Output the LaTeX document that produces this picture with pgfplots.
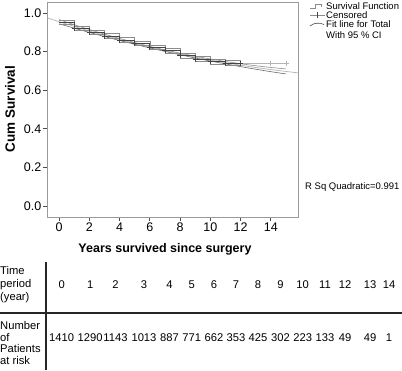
\documentclass[border=0pt]{standalone}
\usepackage{fontspec}
\setmainfont{Liberation Sans}
\usepackage{pgfplots}
\pgfplotsset{compat=1.18}
\definecolor{kmdark}{HTML}{444444}
\definecolor{kmci}{HTML}{8C8C8C}
\definecolor{fitc}{HTML}{B4B4B4}
\definecolor{axc}{HTML}{9A9A9A}
\begin{document}
\begin{tikzpicture}
\useasboundingbox (0pt,0pt) rectangle (402pt,-370pt);
\begin{axis}[
  at={(47pt,-217pt)}, anchor=south west,
  scale only axis, width=251pt, height=215pt,
  xmin=-0.8, xmax=15.8, ymin=-0.057, ymax=1.057,
  xtick={0,2,4,6,8,10,12,14},
  ytick={0,0.2,0.4,0.6,0.8,1.0},
  yticklabel style={/pgf/number format/fixed,/pgf/number format/fixed zerofill,/pgf/number format/precision=1},
  /pgf/number format/assume math mode=true,
  tick pos=left, tick align=outside,
  major tick length=4pt,
  axis line style={draw=axc, line width=0.8pt},
  every tick/.style={draw=black!70, line width=0.7pt},
  ticklabel style={font=\fontsize{12.5}{14}\selectfont},
  xticklabel style={inner sep=1.5pt},
  yticklabel style={inner sep=1.5pt},
]
% fit line for total
\addplot[fitc, line width=0.7pt, smooth] coordinates {
(-0.8,0.9754)(0,0.9550)(1,0.9304)(2,0.9069)(3,0.8844)(4,0.8629)(5,0.8426)(6,0.8232)(7,0.8050)(8,0.7878)(9,0.7716)(10,0.7566)(11,0.7426)(12,0.7297)(13,0.7178)(14,0.7070)(15,0.6973)(15.8,0.6900)};
% fit 95% CI
\addplot[kmdark!80, line width=0.6pt, smooth] coordinates {
(0,0.9441)(1,0.9214)(2,0.8994)(3,0.8782)(4,0.8576)(5,0.8380)(6,0.8191)(7,0.8010)(8,0.7837)(9,0.7670)(10,0.7513)(11,0.7364)(12,0.7222)(13,0.7088)(14,0.6961)(15,0.6843)};
\addplot[kmdark!60, line width=0.6pt, smooth] coordinates {
(0,0.9659)(1,0.9394)(2,0.9144)(3,0.8906)(4,0.8682)(5,0.8472)(6,0.8273)(7,0.8090)(8,0.7919)(9,0.7762)(10,0.7619)(11,0.7488)(12,0.7372)(13,0.7268)(14,0.7179)(15,0.7103)};
% KM confidence band
\addplot[kmci, line width=0.6pt, const plot] coordinates {
(0,0.961)(1,0.932)(2,0.910)(3,0.893)(4,0.872)(5,0.855)(6,0.835)(7,0.818)(8,0.793)(9,0.776)(10,0.761)(11,0.755)(12,0.752)};
\addplot[kmci, line width=0.6pt, const plot] coordinates {
(0,0.939)(1,0.910)(2,0.888)(3,0.869)(4,0.848)(5,0.831)(6,0.811)(7,0.792)(8,0.767)(9,0.748)(10,0.733)(11,0.727)(12,0.724)};
% KM survival function
\addplot[kmdark, line width=0.8pt, const plot] coordinates {
(0,0.950)(1,0.921)(2,0.899)(3,0.881)(4,0.860)(5,0.843)(6,0.823)(7,0.805)(8,0.780)(9,0.762)(10,0.747)(11,0.741)(12,0.738)};
\addplot[fitc, line width=0.7pt] coordinates {(12,0.738)(15,0.738)};
% censored
\addplot[only marks, mark=+, mark size=2.6pt, kmdark, mark options={line width=0.8pt}] coordinates {
(1,0.921)(2,0.899)(3,0.881)(4,0.860)(5,0.843)(6,0.823)(7,0.805)(8,0.780)(9,0.762)(10,0.747)(11,0.741)(12,0.738)};
\addplot[only marks, mark=+, mark size=2.6pt, fitc, mark options={line width=0.7pt}] coordinates {(14,0.738)(15,0.738)};
\end{axis}
% axis titles
\node[rotate=90, font=\bfseries\fontsize{13.5}{15}\selectfont] at (10pt,-109pt) {Cum Survival};
\node[font=\bfseries\fontsize{12.5}{14}\selectfont] at (165pt,-249pt) {Years survived since surgery};
% legend
\draw[kmci, line width=0.6pt] (310pt,-8pt) -- (315pt,-8pt) -- (315pt,-4.5pt) -- (321pt,-4.5pt) -- (321pt,-7pt);
\draw[kmci, line width=0.6pt] (310pt,-15pt) -- (325pt,-15pt);
\draw[kmdark, line width=0.7pt] (317.5pt,-12pt) -- (317.5pt,-18pt);
\draw[kmdark, line width=0.6pt] (310pt,-26pt) .. controls (314pt,-22.5pt) and (320pt,-22.5pt) .. (324pt,-24.5pt);
\begin{scope}[every node/.style={anchor=west, inner sep=0pt, font=\fontsize{9.5}{11}\selectfont}]
\node at (326pt,-6pt) {Survival Function};
\node at (326pt,-15pt) {Censored};
\node at (326pt,-24pt) {Fit line for Total};
\node at (326pt,-35.5pt) {With 95 \% CI};
\node at (305pt,-187pt) {R Sq Quadratic=0.991};
\end{scope}
% risk table
\draw[black!85, line width=1.1pt] (46pt,-262pt) -- (46pt,-370pt);
\draw[black!85, line width=1.1pt] (0pt,-313pt) -- (402pt,-313pt);
\node[anchor=west, inner sep=0pt, align=left, font=\fontsize{11.2}{13}\selectfont] at (0pt,-285pt) {Time\\period\\(year)};
\node[anchor=west, inner sep=0pt, align=left, font=\fontsize{11.2}{11.4}\selectfont] at (0pt,-343pt) {Number\\of\\Patients\\at risk};
\begin{scope}[every node/.style={inner sep=0pt, font=\fontsize{11.2}{13}\selectfont}]
\foreach \xx/\yr/\np in {61.7/0/1410, 90.2/1/1290, 115.5/2/1143, 144/3/1013, 169.5/4/887, 191.7/5/771, 213.9/6/662, 236/7/353, 258/8/425, 280.5/9/302, 302.7/10/223, 325/11/133, 345/12/49, 370/13/49, 389/14/1}{
  \node at (\xx pt,-285pt) {\yr};
  \node at (\xx pt,-338pt) {\np};
}
\end{scope}
\end{tikzpicture}
\end{document}
